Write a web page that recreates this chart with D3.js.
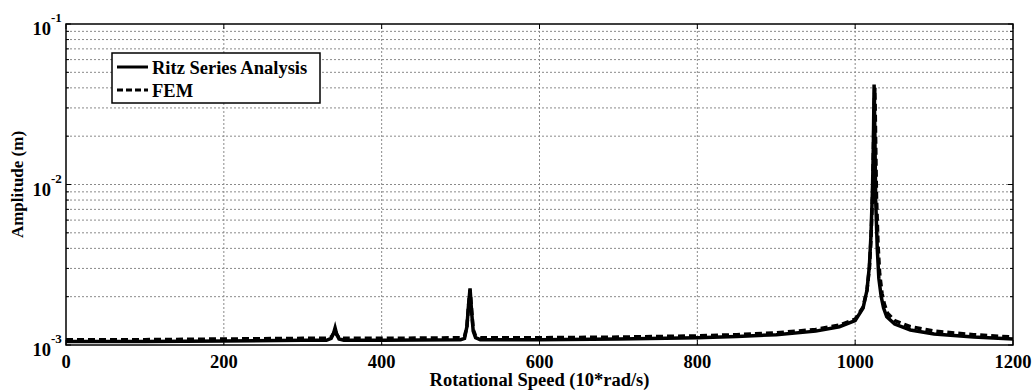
<!DOCTYPE html>
<html>
<head>
<meta charset="utf-8">
<script src="https://cdn.jsdelivr.net/npm/d3@7"></script>
<style>
  body { margin: 0; background: #fff; }
  text { font-family: "Liberation Serif", "Times New Roman", serif; font-weight: bold; }
</style>
</head>
<body>
<div id="chart"></div>
<script>
const W = 1034, H = 392;
const margin = {top: 24, right: 21, bottom: 47, left: 66};

// rotational speed (10*rad/s)
const speedRitz = [0, 100, 200, 300, 330, 336, 339, 341, 343, 346, 352, 400, 500, 505, 508, 510, 512, 514, 516, 519, 525,
  600, 700, 800, 850, 900, 950, 980, 1000, 1010, 1015, 1018, 1020, 1022, 1023, 1024, 1025, 1026, 1028, 1030, 1033, 1036,
  1040, 1050, 1070, 1100, 1150, 1200];
const ampRitz = [1.05e-3, 1.05e-3, 1.06e-3, 1.07e-3, 1.07e-3, 1.1e-3, 1.18e-3, 1.28e-3, 1.17e-3, 1.09e-3, 1.07e-3,
  1.07e-3, 1.08e-3, 1.1e-3, 1.3e-3, 1.75e-3, 2.25e-3, 1.6e-3, 1.22e-3, 1.11e-3, 1.08e-3,
  1.08e-3, 1.09e-3, 1.11e-3, 1.13e-3, 1.16e-3, 1.22e-3, 1.3e-3, 1.42e-3, 1.7e-3, 2.2e-3, 3.1e-3, 4.8e-3, 9.5e-3, 1.7e-2,
  4.2e-2, 2e-2, 8e-3, 4e-3, 2.6e-3, 2e-3, 1.7e-3,
  1.5e-3, 1.35e-3, 1.24e-3, 1.17e-3, 1.12e-3, 1.09e-3];

const speedFem = [0, 100, 200, 300, 330, 336, 339, 341, 343, 346, 352, 400, 500, 505, 508, 510, 512, 514, 516, 519, 525,
  600, 700, 800, 850, 900, 950, 980, 1000, 1010, 1015, 1018, 1020, 1022, 1023, 1024, 1025, 1026, 1027, 1029, 1031, 1034,
  1037, 1041, 1050, 1070, 1100, 1150, 1200];
const ampFem = [1.08e-3, 1.08e-3, 1.09e-3, 1.1e-3, 1.1e-3, 1.12e-3, 1.18e-3, 1.24e-3, 1.16e-3, 1.11e-3, 1.1e-3,
  1.1e-3, 1.11e-3, 1.13e-3, 1.3e-3, 1.75e-3, 2.2e-3, 1.65e-3, 1.25e-3, 1.14e-3, 1.11e-3,
  1.11e-3, 1.12e-3, 1.14e-3, 1.16e-3, 1.19e-3, 1.25e-3, 1.33e-3, 1.45e-3, 1.72e-3, 2.2e-3, 3e-3, 4.5e-3, 8.5e-3, 1.5e-2,
  3e-2, 4e-2, 1.8e-2, 8.5e-3, 4.2e-3, 2.8e-3, 2.1e-3,
  1.8e-3, 1.58e-3, 1.42e-3, 1.3e-3, 1.22e-3, 1.16e-3, 1.12e-3];

const xTicks = [0, 200, 400, 600, 800, 1000, 1200];
const yDecades = [-3, -2, -1];
const legendLabels = ["Ritz Series Analysis", "FEM"];

const x = d3.scaleLinear().domain([0, 1200]).range([margin.left, W - margin.right]);
const y = d3.scaleLog().domain([1e-3, 1e-1]).range([H - margin.bottom, margin.top]);

const svg = d3.select("#chart").append("svg").attr("width", W).attr("height", H);

// grid
const minorY = [];
for (let d = -3; d < -1; d++) {
  for (let m = 1; m <= 9; m++) minorY.push(m * Math.pow(10, d));
}
minorY.push(1e-1);
svg.append("g").selectAll("line").data(minorY.filter(v => v > 1e-3 && v < 1e-1)).join("line")
  .attr("x1", x(0)).attr("x2", x(1200))
  .attr("y1", d => y(d)).attr("y2", d => y(d))
  .attr("stroke", "#8a8a8a").attr("stroke-width", 1).attr("stroke-dasharray", "2,2");
svg.append("g").selectAll("line").data(xTicks.slice(1, -1)).join("line")
  .attr("x1", d => x(d)).attr("x2", d => x(d))
  .attr("y1", y(1e-3)).attr("y2", y(1e-1))
  .attr("stroke", "#8a8a8a").attr("stroke-width", 1).attr("stroke-dasharray", "2,2");

// ticks (inward)
const tk = svg.append("g").attr("stroke", "#000").attr("stroke-width", 1);
minorY.forEach(v => {
  const len = Number.isInteger(Math.log10(v)) ? 5 : 3;
  tk.append("line").attr("x1", x(0)).attr("x2", x(0) + len).attr("y1", y(v)).attr("y2", y(v));
  tk.append("line").attr("x1", x(1200)).attr("x2", x(1200) - len).attr("y1", y(v)).attr("y2", y(v));
});
xTicks.forEach(v => {
  tk.append("line").attr("x1", x(v)).attr("x2", x(v)).attr("y1", y(1e-3)).attr("y2", y(1e-3) - 5);
  tk.append("line").attr("x1", x(v)).attr("x2", x(v)).attr("y1", y(1e-1)).attr("y2", y(1e-1) + 5);
});

// lines
const line = d3.line().x(d => x(d[0])).y(d => y(d[1]));
svg.append("path")
  .attr("d", line(speedRitz.map((s, i) => [s, ampRitz[i]])))
  .attr("fill", "none").attr("stroke", "#000").attr("stroke-width", 3.5);
svg.append("path")
  .attr("d", line(speedFem.map((s, i) => [s, ampFem[i]])))
  .attr("fill", "none").attr("stroke", "#000").attr("stroke-width", 3.5).attr("stroke-dasharray", "7,4");

// frame
svg.append("rect")
  .attr("x", x(0)).attr("y", y(1e-1))
  .attr("width", x(1200) - x(0)).attr("height", y(1e-3) - y(1e-1))
  .attr("fill", "none").attr("stroke", "#000").attr("stroke-width", 1.5);

// x tick labels
svg.append("g").selectAll("text").data(xTicks).join("text")
  .attr("x", d => x(d)).attr("y", y(1e-3) + 23)
  .attr("text-anchor", "middle").attr("font-size", 18.5)
  .text(d => d);

// y tick labels 10^n
const yl = svg.append("g");
yDecades.forEach(d => {
  const yy = y(Math.pow(10, d));
  yl.append("text").attr("x", x(0) - 15).attr("y", yy + 11)
    .attr("text-anchor", "end").attr("font-size", 18.5).text("10");
  yl.append("text").attr("x", x(0) - 15).attr("y", yy - 2)
    .attr("text-anchor", "start").attr("font-size", 13).text(d);
});

// axis titles
svg.append("text").attr("x", (x(0) + x(1200)) / 2).attr("y", H - 6)
  .attr("text-anchor", "middle").attr("font-size", 18.5)
  .text("Rotational Speed (10*rad/s)");
svg.append("text")
  .attr("transform", `translate(23,${(y(1e-3) + y(1e-1)) / 2}) rotate(-90)`)
  .attr("text-anchor", "middle").attr("font-size", 17)
  .text("Amplitude (m)");

// legend
const lg = svg.append("g").attr("transform", "translate(112,53)");
lg.append("rect").attr("width", 208).attr("height", 50)
  .attr("fill", "#fff").attr("stroke", "#000").attr("stroke-width", 1.5);
legendLabels.forEach((t, i) => {
  const ly = 14 + i * 23;
  lg.append("line").attr("x1", 5).attr("x2", 36).attr("y1", ly).attr("y2", ly)
    .attr("stroke", "#000").attr("stroke-width", 3)
    .attr("stroke-dasharray", i === 1 ? "6,3" : null);
  lg.append("text").attr("x", 40).attr("y", ly + 7).attr("font-size", 18.5).text(t);
});
</script>
</body>
</html>
